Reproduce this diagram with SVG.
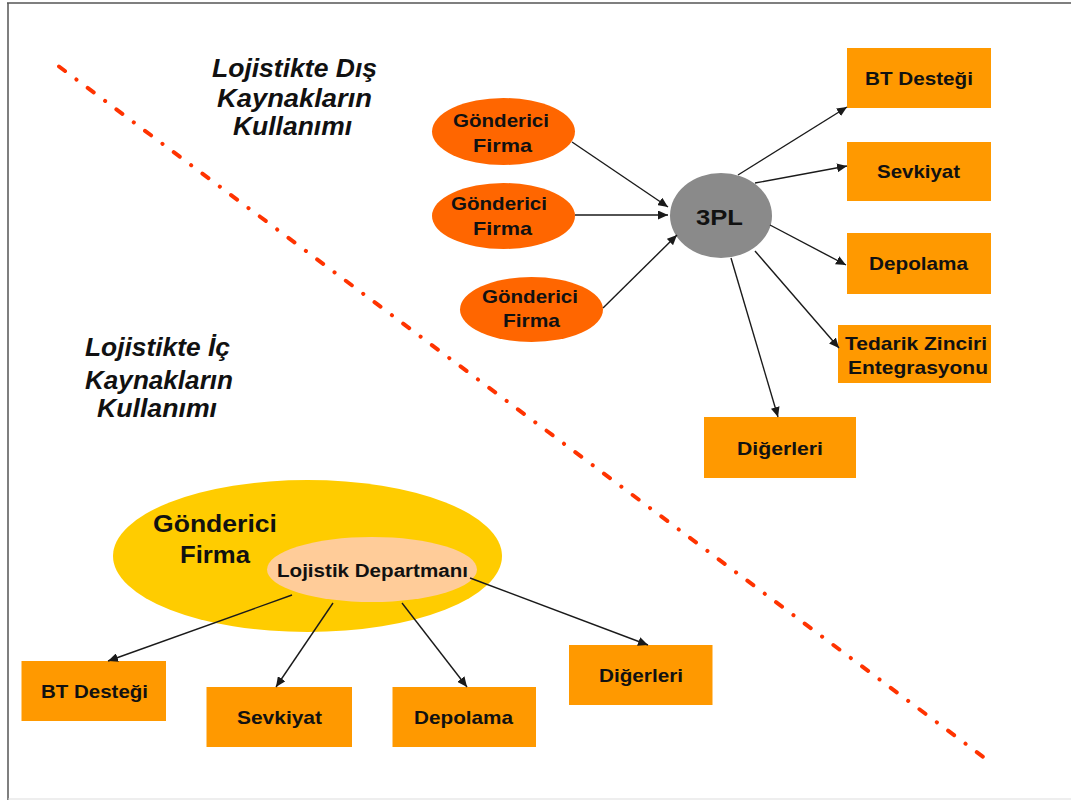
<svg xmlns="http://www.w3.org/2000/svg" width="1071" height="800" viewBox="0 0 1071 800">
  <style>
    .title { font-family: "Liberation Sans", Arial, sans-serif; font-weight: bold; font-style: italic; font-size: 25px; fill: #111; text-anchor: middle; }
    .lbl { font-family: "Liberation Sans", Arial, sans-serif; font-weight: bold; font-size: 19px; fill: #111; text-anchor: middle; }
    .box { fill: #ff9900; }
    .src { fill: #ff6600; }
    .conn line { stroke: #1a1a1a; stroke-width: 1.4; fill: none; marker-end: url(#arrow); }
  </style>
  <defs>
    <marker id="arrow" markerUnits="userSpaceOnUse" markerWidth="11" markerHeight="9" refX="10" refY="4.5" orient="auto">
      <path d="M0,0 L10,4.5 L0,9 Z" fill="#1a1a1a"/>
    </marker>
  </defs>

  <rect x="0" y="0" width="1071" height="800" fill="#ffffff"/>
  <!-- page frame -->
  <line x1="7" y1="3" x2="1071" y2="3" stroke="#555" stroke-width="1.5"/>
  <line x1="8" y1="3" x2="8" y2="800" stroke="#555" stroke-width="1.5"/>
  <line x1="8" y1="799" x2="1071" y2="799" stroke="#ddd" stroke-width="1"/>

  <!-- dividing dash-dot line -->
  <line x1="59" y1="66.5" x2="990" y2="762" stroke="#ff3300" stroke-width="4" stroke-linecap="round" stroke-dasharray="7.5 14.2 0.1 14"/>

  <!-- section titles -->
  <g id="title-outsourcing">
    <text class="title" x="294.5" y="77" textLength="165" lengthAdjust="spacingAndGlyphs">Lojistikte Dış</text>
    <text class="title" x="294.5" y="107" textLength="155" lengthAdjust="spacingAndGlyphs">Kaynakların</text>
    <text class="title" x="292.5" y="135" textLength="119" lengthAdjust="spacingAndGlyphs">Kullanımı</text>
  </g>
  <g id="title-insourcing">
    <text class="title" x="157.5" y="356" textLength="145" lengthAdjust="spacingAndGlyphs">Lojistikte İç</text>
    <text class="title" x="159" y="389" textLength="148" lengthAdjust="spacingAndGlyphs">Kaynakların</text>
    <text class="title" x="157" y="417" textLength="120" lengthAdjust="spacingAndGlyphs">Kullanımı</text>
  </g>

  <!-- outsourcing side -->
  <g id="sender-1">
    <ellipse class="src" cx="503.5" cy="131.5" rx="71.5" ry="33.5"/>
    <text class="lbl" x="501" y="127" textLength="96" lengthAdjust="spacingAndGlyphs">Gönderici</text>
    <text class="lbl" x="502.5" y="152" textLength="59" lengthAdjust="spacingAndGlyphs">Firma</text>
  </g>
  <g id="sender-2">
    <ellipse class="src" cx="503.5" cy="216" rx="71.5" ry="33"/>
    <text class="lbl" x="499" y="210" textLength="96" lengthAdjust="spacingAndGlyphs">Gönderici</text>
    <text class="lbl" x="502.5" y="235" textLength="59" lengthAdjust="spacingAndGlyphs">Firma</text>
  </g>
  <g id="sender-3">
    <ellipse class="src" cx="531.5" cy="309.5" rx="71.5" ry="32.5"/>
    <text class="lbl" x="530" y="303" textLength="96" lengthAdjust="spacingAndGlyphs">Gönderici</text>
    <text class="lbl" x="531.5" y="327" textLength="57" lengthAdjust="spacingAndGlyphs">Firma</text>
  </g>
  <g id="tpl">
    <ellipse cx="721" cy="215.5" rx="51" ry="42.5" fill="#8a8a8a"/>
    <text class="lbl" x="719.5" y="225" textLength="47" lengthAdjust="spacingAndGlyphs" style="font-size:22px">3PL</text>
  </g>
  <g id="out-it">
    <rect class="box" x="847" y="48" width="144" height="60"/>
    <text class="lbl" x="919" y="85" textLength="108" lengthAdjust="spacingAndGlyphs">BT Desteği</text>
  </g>
  <g id="out-shipping">
    <rect class="box" x="847" y="142" width="144" height="59"/>
    <text class="lbl" x="918.5" y="178" textLength="83" lengthAdjust="spacingAndGlyphs">Sevkiyat</text>
  </g>
  <g id="out-storage">
    <rect class="box" x="847" y="233" width="144" height="61"/>
    <text class="lbl" x="918.5" y="270" textLength="99" lengthAdjust="spacingAndGlyphs">Depolama</text>
  </g>
  <g id="out-supply-chain">
    <rect class="box" x="838" y="325" width="153" height="58"/>
    <text class="lbl" x="916" y="350" textLength="142" lengthAdjust="spacingAndGlyphs">Tedarik Zinciri</text>
    <text class="lbl" x="918" y="374" textLength="140" lengthAdjust="spacingAndGlyphs">Entegrasyonu</text>
  </g>
  <g id="out-other">
    <rect class="box" x="704" y="417" width="152" height="61"/>
    <text class="lbl" x="780" y="455" textLength="86" lengthAdjust="spacingAndGlyphs">Diğerleri</text>
  </g>

  <!-- insourcing side -->
  <g id="sender-firm">
    <ellipse cx="307.5" cy="556" rx="194.5" ry="76" fill="#ffcc00"/>
    <text class="lbl" x="215" y="532" style="font-size:24px" textLength="124" lengthAdjust="spacingAndGlyphs">Gönderici</text>
    <text class="lbl" x="215" y="563" style="font-size:24px" textLength="70" lengthAdjust="spacingAndGlyphs">Firma</text>
  </g>
  <g id="logistics-dept">
    <ellipse cx="372" cy="569.5" rx="105" ry="32.5" fill="#ffcc99"/>
    <text class="lbl" x="372.5" y="577" style="font-size:18px" textLength="191" lengthAdjust="spacingAndGlyphs">Lojistik Departmanı</text>
  </g>
  <g id="in-it">
    <rect class="box" x="21.5" y="661" width="144.5" height="60"/>
    <text class="lbl" x="94.5" y="698" textLength="107" lengthAdjust="spacingAndGlyphs">BT Desteği</text>
  </g>
  <g id="in-shipping">
    <rect class="box" x="206.5" y="687" width="145.5" height="60"/>
    <text class="lbl" x="279.5" y="724" textLength="85" lengthAdjust="spacingAndGlyphs">Sevkiyat</text>
  </g>
  <g id="in-storage">
    <rect class="box" x="392.5" y="687" width="143.5" height="60"/>
    <text class="lbl" x="463.5" y="724" textLength="99" lengthAdjust="spacingAndGlyphs">Depolama</text>
  </g>
  <g id="in-other">
    <rect class="box" x="569" y="645" width="143.5" height="60"/>
    <text class="lbl" x="641" y="682" textLength="84" lengthAdjust="spacingAndGlyphs">Diğerleri</text>
  </g>

  <!-- connectors, drawn over the node shapes -->
  <g id="connectors" class="conn">
    <line x1="572" y1="142" x2="668" y2="207"/>
    <line x1="575" y1="215" x2="668" y2="215"/>
    <line x1="603" y1="308" x2="677" y2="235"/>
    <line x1="738" y1="175" x2="847" y2="107"/>
    <line x1="755" y1="183" x2="847" y2="166"/>
    <line x1="770" y1="225" x2="846" y2="265"/>
    <line x1="755" y1="251" x2="839" y2="348"/>
    <line x1="731" y1="258" x2="778" y2="417"/>
    <line x1="292" y1="595" x2="108" y2="661"/>
    <line x1="333" y1="603" x2="276" y2="687"/>
    <line x1="402" y1="603" x2="467" y2="687"/>
    <line x1="470" y1="578" x2="648" y2="645"/>
  </g>
</svg>
